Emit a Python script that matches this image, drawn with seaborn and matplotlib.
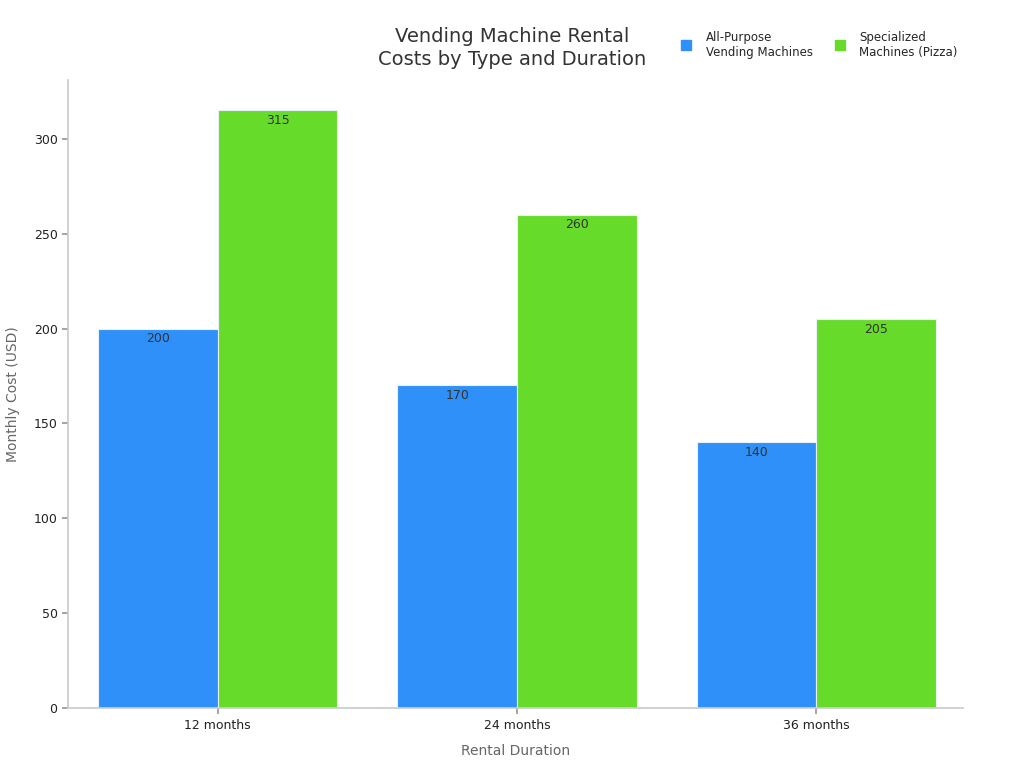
import pandas as pd
import matplotlib.pyplot as plt
import seaborn as sns

sns.set_theme(style="white")
plt.rcParams['font.family'] = ['DejaVu Sans']

durations = ["12 months", "24 months", "36 months"]
series_names = ["All-Purpose\nVending Machines", "Specialized\nMachines (Pizza)"]
all_purpose = [200, 170, 140]
specialized = [315, 260, 205]
colors = ["#2E90F8", "#66DB2A"]

df = pd.DataFrame({
    "duration": durations * 2,
    "type": [series_names[0]] * 3 + [series_names[1]] * 3,
    "cost": all_purpose + specialized,
})

fig = plt.figure(figsize=(10.24, 7.68), dpi=100)
ax = fig.add_axes([0.0664, 0.078, 0.874, 0.818])

sns.barplot(data=df, x="duration", y="cost", hue="type", palette=colors,
            width=0.8, edgecolor="#e8f0f8", linewidth=0.8, saturation=1,
            ax=ax, legend=False)

for container in ax.containers:
    ax.bar_label(container, padding=-12, fontsize=9, color="#333333")

ax.set_ylim(0, 331)
ax.set_xlim(-0.5, 2.49)
ax.set_xlabel("Rental Duration", fontsize=10, color="#666666", labelpad=9)
ax.set_ylabel("Monthly Cost (USD)", fontsize=10, color="#666666", labelpad=10)
ax.tick_params(axis="both", labelsize=9, colors="#222222", length=4, left=True, bottom=True)
ax.tick_params(axis="both", color="#999999")
for side in ["top", "right"]:
    ax.spines[side].set_visible(False)
for side in ["left", "bottom"]:
    ax.spines[side].set_color("#cccccc")

fig.text(0.5, 0.91, "Vending Machine Rental\nCosts by Type and Duration",
         ha="center", va="bottom", fontsize=14, color="#333333", linespacing=1.3)

handles = [plt.Line2D([], [], marker="s", linestyle="", markersize=7,
                      markerfacecolor=c, markeredgecolor=c) for c in colors]
fig.legend(handles, series_names, loc="center left", bbox_to_anchor=(0.651, 0.942),
           ncol=2, frameon=False, fontsize=8.5, handletextpad=0.9, columnspacing=1.55,
           handlelength=1.5)

plt.savefig("out.png", dpi=100)
